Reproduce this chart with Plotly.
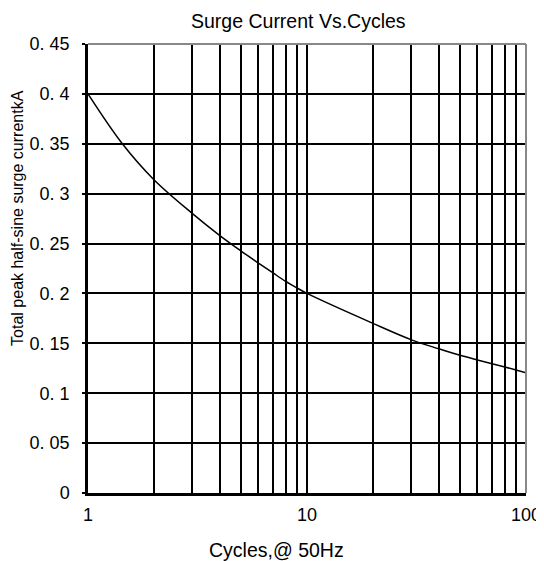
import plotly.graph_objects as go

cycles = [1, 1.435, 2, 3, 4, 5, 6, 7, 8, 9, 10, 20, 30, 40, 50, 60, 70, 80, 90, 100]
current_ka = [0.400, 0.350, 0.314, 0.280, 0.258, 0.2425, 0.2305, 0.2205, 0.212, 0.2055, 0.200,
              0.170, 0.1535, 0.1445, 0.138, 0.1333, 0.1295, 0.1263, 0.1233, 0.1205]

y_tickvals = [0, 0.05, 0.1, 0.15, 0.2, 0.25, 0.3, 0.35, 0.4, 0.45]
y_ticktext = ["0", "0. 05", "0. 1", "0. 15", "0. 2", "0. 25", "0. 3", "0. 35", "0. 4", "0. 45"]
x_tickvals = [1, 10, 100]
x_ticktext = ["1", "10", "100"]
x_minor = [2, 3, 4, 5, 6, 7, 8, 9, 20, 30, 40, 50, 60, 70, 80, 90]

fig = go.Figure()
fig.add_trace(go.Scatter(x=cycles, y=current_ka, mode="lines",
                         line=dict(color="black", width=1.5, shape="spline", smoothing=1.0),
                         showlegend=False, hoverinfo="skip"))

font = "Liberation Sans, Arial, sans-serif"
fig.update_layout(
    width=544, height=561,
    margin=dict(l=80, r=26, t=36, b=76, autoexpand=False),
    paper_bgcolor="white", plot_bgcolor="white",
    font=dict(family=font, color="black", size=18),
    shapes=[
        dict(type="line", xref="paper", yref="paper", x0=0, x1=1, y0=1, y1=1,
             line=dict(color="#888888", width=2)),
        dict(type="line", xref="paper", yref="paper", x0=1, x1=1, y0=0, y1=1,
             line=dict(color="#888888", width=2)),
    ],
    annotations=[
        dict(text="Surge Current Vs.Cycles", xref="paper", yref="paper", x=0.4795, y=1.0512,
             xanchor="center", yanchor="middle", showarrow=False, font=dict(size=19.5)),
        dict(text="Cycles,@ 50Hz", xref="paper", yref="paper", x=0.4315, y=-0.127,
             xanchor="center", yanchor="middle", showarrow=False, font=dict(size=19.5)),
        dict(text="Total peak half-sine surge currentkA", xref="paper", yref="paper",
             x=-0.160, y=0.6125, xanchor="center", yanchor="middle", textangle=-90,
             showarrow=False, font=dict(size=16)),
    ],
)
fig.update_xaxes(
    type="log", range=[0, 2], automargin=False,
    tickvals=x_tickvals, ticktext=x_ticktext,
    showgrid=True, gridcolor="black", gridwidth=1.5,
    minor=dict(tickvals=x_minor, showgrid=True, gridcolor="black", gridwidth=1.5, ticks=""),
    showline=True, linecolor="black", linewidth=2.5,
    ticks="", ticklabelstandoff=4,
    tickfont=dict(size=18),
    zeroline=False,
)
fig.update_yaxes(
    range=[0, 0.45], automargin=False,
    tickvals=y_tickvals, ticktext=y_ticktext,
    showgrid=True, gridcolor="black", gridwidth=1.5,
    showline=True, linecolor="black", linewidth=2.5,
    ticks="outside", ticklen=3, tickcolor="black", tickwidth=1.5,
    ticklabelstandoff=9,
    tickfont=dict(size=18),
    zeroline=False,
)

fig.write_html("out.html")
